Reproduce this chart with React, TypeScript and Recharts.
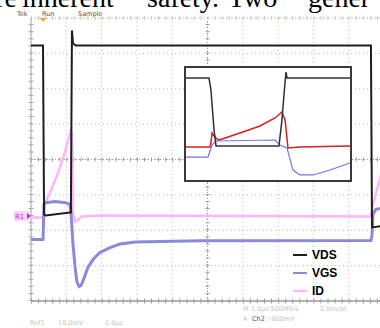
import { LineChart, Line, XAxis, YAxis, CartesianGrid, ReferenceLine, Legend } from "recharts";

// scope screen: 10 time divisions (1.0 µs/div), 8 vertical divisions
const timeDivs = [0, 1, 2, 3, 4, 5, 6, 7, 8, 9, 10];
const voltDivs = [-4, -3, -2, -1, 0, 1, 2, 3, 4];
const legendOrder = ["VDS", "VGS", "ID"];

// main traces in divisions
const vdsTrace = [
  { t: 0, v: 3.22 }, { t: 0.34, v: 3.22 }, { t: 0.37, v: -1.55 }, { t: 0.42, v: -1.58 },
  { t: 1.1, v: -1.5 }, { t: 1.13, v: -1.5 }, { t: 1.16, v: 3.65 }, { t: 1.19, v: 3.28 },
  { t: 1.27, v: 3.22 }, { t: 9.63, v: 3.22 }, { t: 9.66, v: -1.92 }, { t: 10, v: -1.87 },
];

const vgsTrace = [
  { t: 0, v: -2.26 }, { t: 0.34, v: -2.26 }, { t: 0.37, v: -1.27 }, { t: 0.42, v: -1.22 },
  { t: 0.68, v: -1.19 }, { t: 0.99, v: -1.22 }, { t: 1.1, v: -1.27 }, { t: 1.13, v: -1.47 },
  { t: 1.19, v: -2.4 }, { t: 1.25, v: -3.05 }, { t: 1.3, v: -3.45 }, { t: 1.36, v: -3.59 },
  { t: 1.42, v: -3.56 }, { t: 1.5, v: -3.36 }, { t: 1.61, v: -3.05 }, { t: 1.78, v: -2.8 },
  { t: 1.95, v: -2.63 }, { t: 2.24, v: -2.49 }, { t: 2.52, v: -2.39 }, { t: 2.95, v: -2.33 },
  { t: 4.79, v: -2.3 }, { t: 9.63, v: -2.29 }, { t: 9.66, v: -2.15 }, { t: 9.69, v: -1.55 },
  { t: 9.77, v: -1.41 }, { t: 10, v: -1.36 },
];

const idTrace = [
  { t: 0, v: -1.64 }, { t: 0.34, v: -1.64 }, { t: 0.37, v: -1.3 }, { t: 0.54, v: -0.93 },
  { t: 0.68, v: -0.59 }, { t: 0.82, v: -0.23 }, { t: 0.96, v: 0.2 }, { t: 1.13, v: 0.82 },
  { t: 1.16, v: 0.71 }, { t: 1.19, v: -1.55 }, { t: 1.25, v: -1.75 }, { t: 1.33, v: -1.72 },
  { t: 1.44, v: -1.61 }, { t: 1.95, v: -1.58 }, { t: 9.63, v: -1.61 }, { t: 9.69, v: -1.27 },
  { t: 9.89, v: -0.51 }, { t: 10, v: -0.14 },
];

// zoomed inset (0..100 both ways)
const insetVds = [
  { t: 0, v: 91.1 }, { t: 14, v: 91.1 }, { t: 15.2, v: 80.4 }, { t: 17.1, v: 44.6 },
  { t: 18.3, v: 30.4 }, { t: 56.7, v: 30.4 }, { t: 58.5, v: 53.6 }, { t: 60.4, v: 87.5 },
  { t: 61, v: 96.4 }, { t: 61.6, v: 91.1 }, { t: 100, v: 91.1 },
];

const insetId = [
  { t: 0, v: 29.5 }, { t: 14.6, v: 29.5 }, { t: 15.2, v: 33 }, { t: 15.9, v: 42 },
  { t: 17.1, v: 39.3 }, { t: 18.3, v: 37.5 }, { t: 19.5, v: 35.7 }, { t: 22, v: 36.6 },
  { t: 32.9, v: 42 }, { t: 45.1, v: 48.2 }, { t: 54.3, v: 55.4 }, { t: 58.5, v: 60.7 },
  { t: 60.4, v: 53.6 }, { t: 62.2, v: 28.6 }, { t: 69.5, v: 29.5 }, { t: 100, v: 30.4 },
];

const insetVgs = [
  { t: 0, v: 20.5 }, { t: 13.4, v: 20.5 }, { t: 15.9, v: 31.3 }, { t: 18.3, v: 34.8 },
  { t: 54.3, v: 35.7 }, { t: 57.3, v: 31.3 }, { t: 61.6, v: 28.6 }, { t: 65.2, v: 8.9 },
  { t: 69.5, v: 4.5 }, { t: 77.4, v: 4.5 }, { t: 87.8, v: 8.9 }, { t: 100, v: 15.2 },
];

const renderLegend = (props: any) => {
  const items = [...(props.payload || [])].sort(
    (a: any, b: any) => legendOrder.indexOf(a.value) - legendOrder.indexOf(b.value)
  );
  return (
    <div>
      {items.map((entry: any) => (
        <div key={entry.value} style={{ display: "flex", alignItems: "center", height: 18 }}>
          <span style={{ display: "inline-block", width: 14, height: 2.5, background: entry.color, marginRight: 5 }} />
          <span style={{ fontFamily: "'Liberation Sans', Arial, sans-serif", fontWeight: 700, fontSize: 12, color: "#000" }}>
            {entry.value}
          </span>
        </div>
      ))}
    </div>
  );
};

const faint = { fontFamily: "'DejaVu Sans', sans-serif", fontSize: 6.5, fill: "#c4c4c4" };

export default function App() {
  return (
    <div style={{ position: "absolute", left: 0, top: 0, width: 380, height: 328, overflow: "hidden", background: "#fff" }}>
      <div style={{ position: "absolute", left: 0, top: 0 }}>
        <LineChart width={420} height={328} margin={{ top: 18, right: 36, bottom: 27, left: 31 }}>
          <XAxis type="number" dataKey="t" domain={[0, 10]} ticks={timeDivs} hide />
          <YAxis type="number" dataKey="v" domain={[-4, 4]} ticks={voltDivs} hide />
          <CartesianGrid stroke="#b8b8b8" strokeDasharray="1 3" />
          <ReferenceLine y={0} stroke="#9a9a9a" strokeDasharray="1 2" />
          <ReferenceLine y={0} stroke="#9a9a9a" strokeWidth={4} strokeDasharray="1 6.06" />
          <ReferenceLine x={5} stroke="#9a9a9a" strokeDasharray="1 2" />
          <ReferenceLine x={5} stroke="#9a9a9a" strokeWidth={4} strokeDasharray="1 6.075" />
          <ReferenceLine y={4} stroke="#d8cf9c" strokeDasharray="1 2" />
          <ReferenceLine y={4} stroke="#c9c9c9" strokeWidth={4} strokeDasharray="1 6.06" />
          <ReferenceLine x={0} stroke="#a8a8a8" />
          <ReferenceLine x={0} stroke="#a8a8a8" strokeWidth={5} strokeDasharray="1 6.075" />
          <ReferenceLine y={-4} stroke="#9c9c9c" strokeWidth={1.5} />
          <ReferenceLine y={-4} stroke="#9c9c9c" strokeWidth={5} strokeDasharray="1 6.06" />
          <Line data={idTrace} dataKey="v" name="ID" stroke="#ffb4ff" strokeWidth={2.5} dot={false} activeDot={false} isAnimationActive={false} />
          <Line data={vgsTrace} dataKey="v" name="VGS" stroke="#8a8ad8" strokeWidth={3} dot={false} activeDot={false} isAnimationActive={false} />
          <Line data={vdsTrace} dataKey="v" name="VDS" stroke="#1e1e1e" strokeWidth={2} dot={false} activeDot={false} isAnimationActive={false} />
          <Legend
            layout="vertical"
            align="center"
            verticalAlign="middle"
            content={renderLegend}
            wrapperStyle={{ position: "absolute", left: 293, top: 246, width: 60, height: 54 }}
          />
        </LineChart>
      </div>

      <div style={{ position: "absolute", left: 184, top: 66, width: 168, height: 116, boxSizing: "border-box", border: "2px solid #3a3a3a", background: "#fff" }}>
        <LineChart width={164} height={112} margin={{ top: 0, right: 0, bottom: 0, left: 0 }}>
          <XAxis type="number" dataKey="t" domain={[0, 100]} hide />
          <YAxis type="number" dataKey="v" domain={[0, 100]} hide />
          <Line data={insetVgs} dataKey="v" stroke="#7474e4" strokeWidth={1.2} dot={false} activeDot={false} isAnimationActive={false} />
          <Line data={insetId} dataKey="v" stroke="#d42020" strokeWidth={1.5} dot={false} activeDot={false} isAnimationActive={false} />
          <Line data={insetVds} dataKey="v" stroke="#303030" strokeWidth={1.5} dot={false} activeDot={false} isAnimationActive={false} />
        </LineChart>
      </div>

      <svg width={380} height={328} style={{ position: "absolute", left: 0, top: 0, pointerEvents: "none" }}>
        <g style={{ fontFamily: "'Liberation Serif', 'Times New Roman', serif", fontSize: 28 }} fill="#000">
          <text x={17} y={7} textAnchor="end">are</text>
          <text x={22} y={7}>inherent</text>
          <text x={147} y={7}>safety.</text>
          <text x={228} y={7}>Two</text>
          <text x={308} y={7}>gener</text>
        </g>
        <g style={{ fontFamily: "'DejaVu Sans', sans-serif", fontSize: 6.5 }} fill="#555">
          <text x={17} y={16}>Tek</text>
          <text x={42} y={16}>Run</text>
          <text x={78} y={16}>Sample</text>
        </g>
        <polygon points="40,18 46,18 43,22" fill="#f0a030" />
        <rect x={14} y={211} width={15} height={10} fill="#ffd2ff" />
        <text x={15} y={219} style={{ fontFamily: "'DejaVu Sans', sans-serif", fontSize: 7 }} fill="#c030c0">R1</text>
        <polygon points="27,213 31,216 27,219" fill="#c030c0" />
        <text x={30} y={325} style={faint}>Ref1</text>
        <text x={58} y={325} style={faint}>10.0mV</text>
        <text x={105} y={325} style={faint}>1.0µs</text>
        <text x={243} y={311} style={faint}>M 1.0µs 500MS/s</text>
        <text x={320} y={311} style={faint}>2.0ns/pt</text>
        <text x={243} y={321} style={faint}>A</text>
        <text x={252} y={321} style={{ ...faint, fill: "#555" }}>Ch2</text>
        <text x={268} y={321} style={faint}>⁄ 600mV</text>
      </svg>
    </div>
  );
}
